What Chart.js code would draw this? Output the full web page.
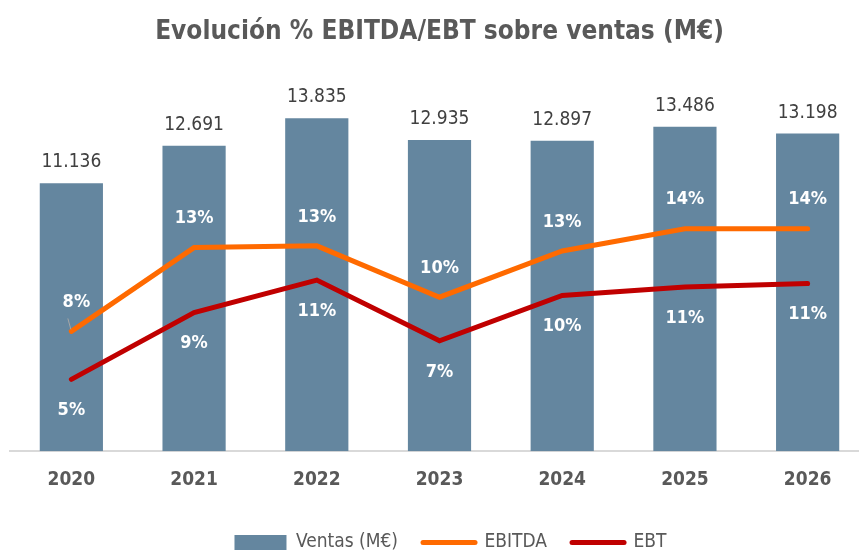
<!DOCTYPE html>
<html>
<head>
<meta charset="utf-8">
<script src="https://cdn.jsdelivr.net/npm/chart.js@4"></script>
<style>
  html, body { margin: 0; padding: 0; background: #fff; overflow: hidden; }
  #clip { width: 859px; height: 551px; overflow: hidden; }
  #wrap { width: 880px; height: 562px; }
</style>
</head>
<body>
<div id="clip"><div id="wrap"><canvas id="chart"></canvas></div></div>
<script>
// Data
const years = ['2020', '2021', '2022', '2023', '2024', '2025', '2026'];
const ventas = [11136, 12691, 13835, 12935, 12897, 13486, 13198];
const ebitdaPct = [8.0, 12.9, 13.0, 10.0, 12.7, 14.0, 14.0];
const ebtPct = [5.2, 9.1, 11.0, 7.45, 10.1, 10.6, 10.8];

const FONT = '"DejaVu Sans Condensed", "DejaVu Sans", sans-serif';

function formatThousands(n) {
    return String(n).replace(/\B(?=(\d{3})+(?!\d))/g, '.');
}

// Draws the value labels (no datalabels plugin available offline)
const valueLabels = {
    id: 'valueLabels',
    afterLayout(chart) {
        // legend sits a bit right of centre in the original
        chart.legend.left += 11;
        chart.legend.right += 11;
    },
    afterDatasetsDraw(chart) {
        const ctx = chart.ctx;
        ctx.save();
        ctx.textAlign = 'center';
        ctx.textBaseline = 'middle';
        chart.data.datasets.forEach((ds, di) => {
            const meta = chart.getDatasetMeta(di);
            meta.data.forEach((el, i) => {
                const v = ds.data[i];
                if (ds.type === 'bar') {
                    ctx.font = '19px ' + FONT;
                    ctx.fillStyle = '#404040';
                    ctx.fillText(formatThousands(v), el.x, el.y - 21);
                } else if (di === 1) {
                    ctx.font = 'bold 18px ' + FONT;
                    ctx.fillStyle = '#ffffff';
                    const dx = i === 0 ? 5 : 0;
                    ctx.fillText(Math.round(v) + '%', el.x + dx, el.y - 29);
                    if (i === 0) {
                        // small leader line of the moved label
                        ctx.strokeStyle = '#a6a6a6';
                        ctx.lineWidth = 1;
                        ctx.beginPath();
                        ctx.moveTo(el.x - 3.5, el.y - 13);
                        ctx.lineTo(el.x - 0.5, el.y - 2);
                        ctx.stroke();
                    }
                } else {
                    ctx.font = 'bold 18px ' + FONT;
                    ctx.fillStyle = '#ffffff';
                    ctx.fillText(Math.round(v) + '%', el.x, el.y + 31);
                }
            });
        });
        ctx.restore();
    }
};

const ctx = document.getElementById('chart').getContext('2d');
new Chart(ctx, {
    data: {
        labels: years,
        datasets: [
            {
                type: 'bar',
                label: 'Ventas (M€)',
                data: ventas,
                backgroundColor: '#64869f',
                borderColor: '#64869f',
                barPercentage: 0.515,
                categoryPercentage: 1,
                yAxisID: 'y',
                order: 3
            },
            {
                type: 'line',
                label: 'EBITDA',
                data: ebitdaPct,
                borderColor: '#ff6a00',
                backgroundColor: '#ff6a00',
                borderWidth: 5,
                borderCapStyle: 'round',
                pointRadius: 0,
                tension: 0,
                yAxisID: 'y2',
                order: 2
            },
            {
                type: 'line',
                label: 'EBT',
                data: ebtPct,
                borderColor: '#c00000',
                backgroundColor: '#c00000',
                borderWidth: 5,
                borderCapStyle: 'round',
                pointRadius: 0,
                tension: 0,
                yAxisID: 'y2',
                order: 1
            }
        ]
    },
    options: {
        responsive: true,
        maintainAspectRatio: false,
        animation: false,
        layout: { padding: { left: 10, right: 11, top: 0, bottom: 0 } },
        plugins: {
            title: {
                display: true,
                text: 'Evolución % EBITDA/EBT sobre ventas (M€)',
                color: '#595959',
                font: { family: FONT, size: 26, weight: 'bold' },
                padding: { top: 17, bottom: 18 }
            },
            legend: {
                position: 'bottom',
                labels: {
                    color: '#595959',
                    font: { family: FONT, size: 19 },
                    usePointStyle: true,
                    pointStyleWidth: 52,
                    boxHeight: 15,
                    padding: 25,
                    generateLabels(chart) {
                        return chart.data.datasets.map((ds, i) => ({
                            text: ds.label,
                            fillStyle: ds.backgroundColor,
                            strokeStyle: ds.borderColor,
                            lineWidth: ds.type === 'line' ? 5 : 0,
                            lineCap: 'round',
                            pointStyle: ds.type === 'line' ? 'line' : 'rect',
                            fontColor: '#595959',
                            datasetIndex: i
                        }));
                    }
                }
            },
            tooltip: { enabled: false }
        },
        scales: {
            x: {
                grid: { display: false, drawTicks: false },
                border: { display: true, color: '#d9d9d9', width: 2 },
                ticks: {
                    color: '#595959',
                    font: { family: FONT, size: 19, weight: 'bold' },
                    padding: 17
                }
            },
            y: {
                display: false,
                min: 0,
                max: 16000
            },
            y2: {
                display: false,
                position: 'right',
                min: 1,
                max: 23.5
            }
        }
    },
    plugins: [valueLabels]
});
</script>
</body>
</html>
